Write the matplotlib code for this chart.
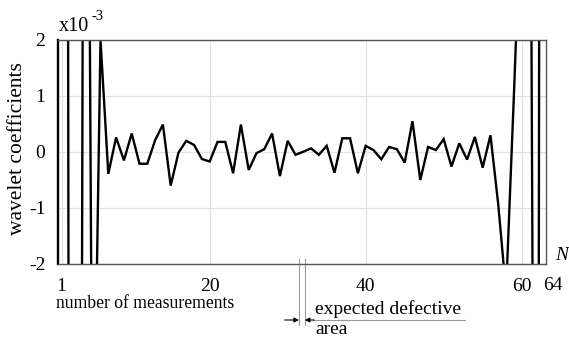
import matplotlib
matplotlib.use("Agg")
import matplotlib.pyplot as plt
import matplotlib.transforms as mtransforms

plt.rcParams['font.family'] = ['Liberation Serif', 'DejaVu Serif']

# wavelet coefficients (units of 1e-3) for measurement numbers 1..64
measurement = list(range(1, 65))
coeff = [80.0, -12.0, -36.0, 17.7, -6.9, 2.0, -0.39, 0.26, -0.15, 0.33,
         -0.21, -0.21, 0.21, 0.49, -0.60, -0.01, 0.20, 0.125, -0.125, -0.17,
         0.18, 0.18, -0.38, 0.49, -0.32, -0.02, 0.05, 0.33, -0.43, 0.20,
         -0.05, 0.005, 0.065, -0.05, 0.11, -0.37, 0.245, 0.245, -0.38, 0.11,
         0.035, -0.13, 0.09, 0.05, -0.19, 0.55, -0.50, 0.09, 0.035, 0.23,
         -0.26, 0.155, -0.135, 0.27, -0.28, 0.30, -0.94, -2.5, 1.0, 4.7,
         10.0, -21.0, 75.0, 60.0]

xticks = [1, 20, 40, 60]
xtick_labels = ['1', '20', '40', '60']
yticks = [-2, -1, 0, 1, 2]
ytick_labels = ['-2', '-1', '0', '1', '2']
defect_area = (31.45, 32.2)

W, H = 569, 340
fig = plt.figure(figsize=(W / 100, H / 100), dpi=100)
ax = fig.add_axes([58 / W, 1 - 264 / H, (546 - 58) / W, (264 - 40) / H])


def fx(px):
    return px / W


def fy(py):
    return 1 - py / H


ax.plot(measurement, coeff, color='black', lw=1.7, solid_joinstyle='miter')
ax.set_xlim(0.55, 63.12)
ax.set_ylim(-2, 2)

ax.set_xticks(xticks)
ax.set_xticklabels(xtick_labels, fontsize=14)
ax.set_yticks(yticks)
ax.set_yticklabels(ytick_labels, fontsize=14)
ax.tick_params(length=0, pad=9)
ax.tick_params(axis='x', pad=10)

ax.grid(True, color='#e2e2e2', lw=0.9)
ax.set_axisbelow(True)
for side in ('top', 'bottom', 'right'):
    ax.spines[side].set_color('#555555')
    ax.spines[side].set_linewidth(1.0)
ax.spines['left'].set_color('black')
ax.spines['left'].set_linewidth(1.7)

# extra tick label beyond the frame and the axis symbol
bt = mtransforms.blended_transform_factory(ax.transData, fig.transFigure)
ax.text(64, fy(285), '64', transform=bt, ha='center', va='center', fontsize=14, clip_on=False)
fig.text(fx(555), fy(255), 'N', fontsize=14, style='italic', ha='left', va='center')

# exponent of the y axis
fig.text(fx(59), fy(31), 'x10', fontsize=14.5, ha='left', va='baseline')
fig.text(fx(91), fy(20), '-3', fontsize=10.5, ha='left', va='baseline')

fig.text(fx(18), fy(149), 'wavelet coefficients', rotation=90, fontsize=15.5,
         ha='center', va='center')
fig.text(fx(56), fy(304), 'number of measurements', fontsize=12.7, ha='left', va='center')

# expected defective area marker
for xv in defect_area:
    ax.plot([xv, xv], [fy(259), fy(325)], transform=bt, color='#9a9a9a', lw=0.8, clip_on=False)
ya = fy(320)
ax.annotate('', xy=(defect_area[0], ya), xycoords=bt, xytext=(29.6, ya), textcoords=bt,
            arrowprops=dict(arrowstyle='-|>', color='black', lw=0.8, mutation_scale=7,
                            shrinkA=0, shrinkB=0))
ax.annotate('', xy=(defect_area[1], ya), xycoords=bt, xytext=(33.4, ya), textcoords=bt,
            arrowprops=dict(arrowstyle='-|>', color='black', lw=0.8, mutation_scale=7,
                            shrinkA=0, shrinkB=0))
ax.plot([33.3, 52.7], [ya, ya], transform=bt, color='#9a9a9a', lw=0.8, clip_on=False)
fig.text(fx(315), fy(309), 'expected defective', fontsize=14, ha='left', va='center')
fig.text(fx(315), fy(330), 'area', fontsize=14, ha='left', va='center')

fig.savefig('out.png', dpi=100)
